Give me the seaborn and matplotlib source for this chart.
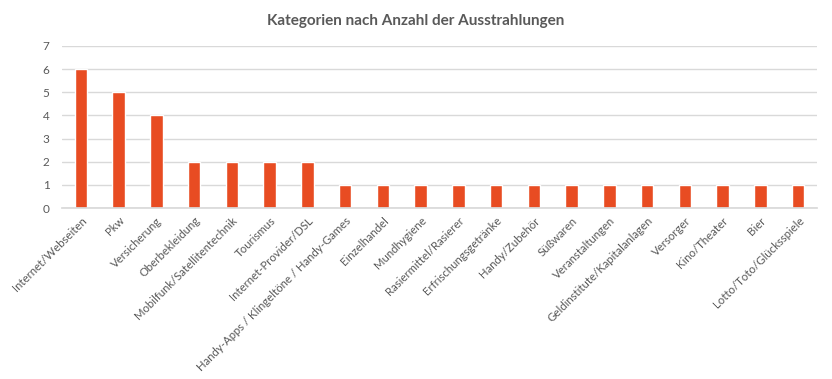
import matplotlib
matplotlib.use('Agg')
import matplotlib.pyplot as plt
import seaborn as sns
import pandas as pd

categories = ['Internet/Webseiten', 'Pkw', 'Versicherung', 'Oberbekleidung',
              'Mobilfunk/Satellitentechnik', 'Tourismus', 'Internet-Provider/DSL',
              'Handy-Apps / Klingeltöne / Handy-Games', 'Einzelhandel', 'Mundhygiene',
              'Rasiermittel/Rasierer', 'Erfrischungsgetränke', 'Handy/Zubehör',
              'Süßwaren', 'Veranstaltungen', 'Geldinstitute/Kapitalanlagen',
              'Versorger', 'Kino/Theater', 'Bier', 'Lotto/Toto/Glücksspiele']
counts = [6, 5, 4, 2, 2, 2, 2, 1, 1, 1, 1, 1, 1, 1, 1, 1, 1, 1, 1, 1]
title = 'Kategorien nach Anzahl der Ausstrahlungen'

data = pd.DataFrame({'cat': categories, 'n': counts})

sns.set_theme(style='white')
plt.rcParams['font.family'] = ['Lato', 'DejaVu Sans']

fig = plt.figure(figsize=(8.32, 3.79), dpi=100)
ax = fig.add_axes([0.0745, 0.451, 0.9075, 0.428])

sns.barplot(data=data, x='cat', y='n', color='#E84C22', width=0.33,
            saturation=1, ax=ax)

ax.set_ylim(0, 7)
ax.set_yticks(range(0, 8))
ax.set_xlim(-0.5, len(categories) - 0.5)
ax.yaxis.grid(True, color='#D9D9D9', linewidth=1)
ax.set_axisbelow(True)
for s in ['top', 'right', 'left']:
    ax.spines[s].set_visible(False)
ax.spines['bottom'].set_color('#D9D9D9')
ax.tick_params(axis='both', length=0, colors='#595959', labelsize=8.2)
ax.tick_params(axis='y', pad=9, labelsize=8.5)
ax.tick_params(axis='x', pad=5)
ax.set_xticks(range(len(categories)))
ax.set_xticklabels(categories, rotation=45, ha='right', rotation_mode='anchor')
ax.set_xlabel('')
ax.set_ylabel('')

fig.text(0.5, 0.945, title, ha='center', va='center', fontsize=11,
         fontweight='bold', color='#595959')

plt.savefig('out.png', dpi=100)
